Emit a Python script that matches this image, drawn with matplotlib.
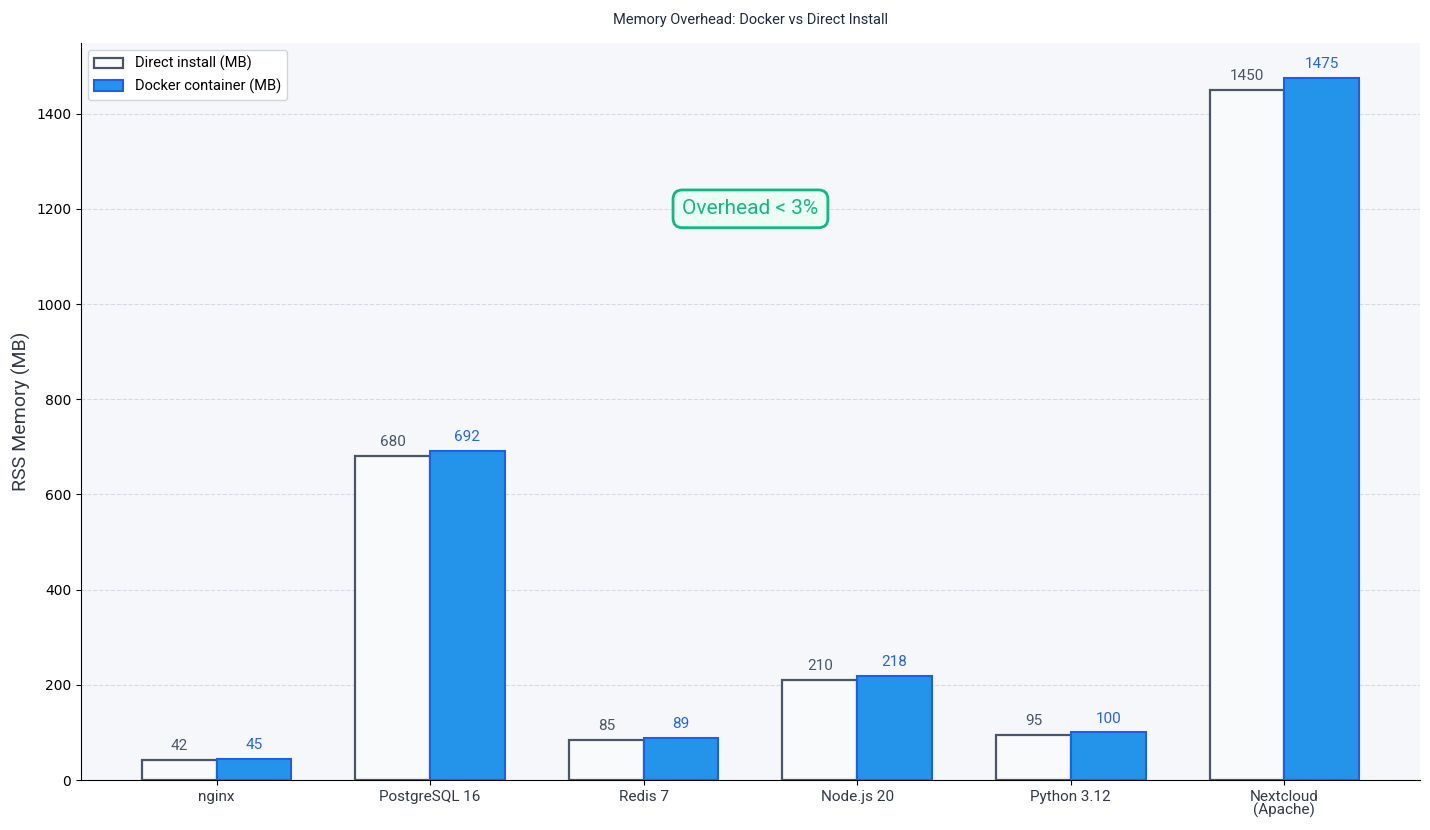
import numpy as np
import matplotlib.pyplot as plt

categories = ["nginx", "PostgreSQL 16", "Redis 7", "Node.js 20", "Python 3.12", "Nextcloud\n(Apache)"]
direct_mb = [42, 680, 85, 210, 95, 1450]
docker_mb = [45, 692, 89, 218, 100, 1475]

TEXT_FONT = ["Roboto", "DejaVu Sans"]

fig = plt.figure(figsize=(14.3, 8.3), dpi=100)
ax = fig.add_axes([0.0566, 0.0602, 0.9364, 0.888])
ax.set_facecolor("#f5f7fb")

x = np.arange(len(categories))
w = 0.35
b1 = ax.bar(x - w / 2, direct_mb, w, color="#f8fafc", edgecolor="#4a5568",
            linewidth=1.6, label="Direct install (MB)", zorder=3)
b2 = ax.bar(x + w / 2, docker_mb, w, color="#2494ea", edgecolor="#1d5fe8",
            linewidth=1.5, label="Docker container (MB)", zorder=3)

for rect, v in zip(b1, direct_mb):
    ax.annotate(str(v), (rect.get_x() + rect.get_width() / 2, v), xytext=(0, 5),
                textcoords="offset points", ha="center", va="bottom",
                fontsize=11, color="#4a5568", family=TEXT_FONT)
for rect, v in zip(b2, docker_mb):
    ax.annotate(str(v), (rect.get_x() + rect.get_width() / 2, v), xytext=(0, 5),
                textcoords="offset points", ha="center", va="bottom",
                fontsize=11, color="#2563eb", family=TEXT_FONT)

ax.set_ylim(0, max(docker_mb) * 1.05)
ax.set_xticks(x)
ax.set_xticklabels(categories, family=TEXT_FONT, fontsize=11, color="#333a45",
                   linespacing=0.9)
ax.tick_params(axis="y", labelsize=10)
ax.set_ylabel("RSS Memory (MB)", family=TEXT_FONT, fontsize=14, color="#333a45")
ax.set_title("Memory Overhead: Docker vs Direct Install", family=TEXT_FONT,
             fontsize=10.5, color="#1e2a44", pad=14)

ax.yaxis.grid(True, linestyle="--", color="#d5dae2", linewidth=0.8, zorder=0)
ax.set_axisbelow(True)
for s in ("top", "right"):
    ax.spines[s].set_visible(False)

ax.text(0.5, 0.775, "Overhead < 3%", transform=ax.transAxes, ha="center", va="center",
        fontsize=15, color="#10b981", family=TEXT_FONT,
        bbox=dict(boxstyle="round,pad=0.45", facecolor="#ecfdf5", edgecolor="#10b981",
                  linewidth=2))

leg = ax.legend(loc="upper left", prop={"family": TEXT_FONT, "size": 10.5},
                frameon=True, framealpha=1, edgecolor="#d0d4da", fancybox=True)

fig.savefig("out.png", dpi=100)
